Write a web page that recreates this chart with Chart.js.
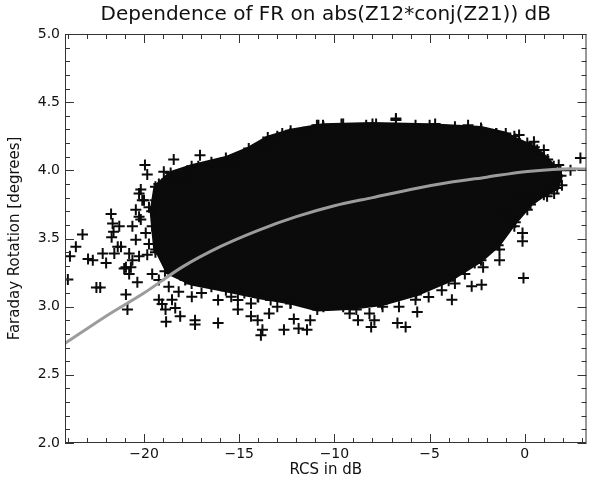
<!DOCTYPE html>
<html>
<head>
<meta charset="utf-8">
<script src="https://cdn.jsdelivr.net/npm/chart.js@4.4.1/dist/chart.umd.min.js"></script>
<style>
  html, body { margin: 0; padding: 0; background: #fff; }
  canvas { display: block; }
</style>
</head>
<body>
<canvas id="chart" width="594" height="480"></canvas>
<script>
// axis ranges and tick labels
const xRange = [-24.15, 3.24];
const yRange = [2.0, 5.0];
const xTicks = [-20, -15, -10, -5, 0];
const yTicks = [2.0, 2.5, 3.0, 3.5, 4.0, 4.5, 5.0];

// outline of the dense core of the cloud, [RCS dB, FR deg]
const coreOutline = [
  [-19.4, 3.40], [-19.6, 3.7], [-19.4, 3.88], [-18.6, 3.98], [-17.5, 4.03], [-15.7, 4.09],
  [-14.5, 4.16], [-13.5, 4.24], [-12.3, 4.29], [-10.6, 4.33], [-8, 4.34],
  [-5, 4.33], [-2.3, 4.31], [-1, 4.27], [-0.5, 4.23], [0.5, 4.17], [1.2, 4.08],
  [1.9, 3.96], [1.7, 3.87], [1.0, 3.82], [0.3, 3.75], [-0.5, 3.62], [-1.4, 3.45],
  [-2.3, 3.34], [-4, 3.19], [-5.7, 3.09], [-7.5, 3.02], [-9.2, 2.99], [-10.9, 2.98],
  [-12.3, 3.03], [-14, 3.07], [-15.7, 3.12], [-17.5, 3.17], [-18.9, 3.26]
];

// crosses sitting on the ragged rim of the core
const rimPoints = [
  [-19.22, 3.195], [-18.70, 3.146], [-18.18, 3.11], [-17.84, 3.195], [-17.49, 3.073],
  [-16.98, 3.10], [-16.46, 3.146], [-16.11, 3.048], [-15.42, 3.073], [-15.07, 3.048],
  [-14.73, 3.10], [-14.38, 3.024], [-14.03, 3.073], [-13.35, 3.048], [-13.0, 3.0],
  [-12.31, 3.024], [-11.61, 3.048], [-10.92, 3.024], [-10.58, 3.0],
  [-17.84, 3.95], [-17.15, 4.03], [-16.46, 4.03], [-15.76, 4.05], [-15.07, 4.08],
  [-14.38, 4.11], [-13.69, 4.17], [-13.0, 4.25], [-12.31, 4.27], [-11.61, 4.28],
  [-10.92, 4.33], [-10.58, 4.32], [-9.54, 4.34], [-8.33, 4.33], [-6.77, 4.37],
  [-5.74, 4.33], [-4.71, 4.34], [-3.67, 4.32], [-2.98, 4.33], [-2.28, 4.30],
  [-1.50, 4.27], [-0.55, 4.25], [0.13, 4.20], [0.65, 4.15], [1.0, 4.10],
  [1.17, 4.05], [1.52, 4.03], [1.87, 4.0], [1.52, 3.95],
  [-1.24, 3.66], [-0.90, 3.71], [-0.55, 3.76], [-0.21, 3.81], [0.13, 3.78],
  [0.48, 3.83], [1.0, 3.86], [1.35, 3.88], [1.17, 3.81], [0.13, 3.71],
  [-0.55, 3.59], [-1.94, 3.42], [-2.63, 3.32], [-3.15, 3.24], [-3.67, 3.17],
  [-4.36, 3.12], [-5.05, 3.07], [-5.74, 3.05], [-6.61, 3.0], [-7.47, 3.0],
  [-8.16, 2.95], [-8.85, 2.98], [-9.54, 3.0], [-10.24, 3.02],
  [-20.26, 3.83], [-20.09, 3.78], [-20.43, 3.71], [-20.17, 3.64], [-20.61, 3.59],
  [-19.91, 3.54], [-19.74, 3.46], [-20.26, 3.37], [-19.39, 3.42], [-19.57, 3.59],
  [-19.39, 3.78], [-19.22, 3.90], [-20.78, 3.39], [-21.38, 3.44], [-21.56, 3.39],
  [-20.95, 3.29], [-20.69, 3.29]
];

// scattered measurements away from the core
const outliers = [
  [-24.0, 3.20], [-23.89, 3.37], [-23.58, 3.44], [-23.23, 3.53], [-22.94, 3.35],
  [-22.69, 3.34], [-22.5, 3.14], [-22.3, 3.14], [-22.17, 3.39], [-21.99, 3.32],
  [-21.73, 3.68], [-21.65, 3.61], [-21.6, 3.55], [-21.7, 3.51], [-21.30, 3.59],
  [-21.21, 3.44], [-21.04, 3.28], [-20.95, 3.09], [-20.87, 2.98], [-20.78, 3.24],
  [-20.61, 3.34], [-20.35, 3.18], [-20.43, 3.49], [-20.26, 3.66], [-20.17, 3.86],
  [-19.95, 4.04], [-19.83, 3.97], [-20.0, 3.78], [-19.74, 3.73], [-19.83, 3.38],
  [-19.57, 3.24], [-19.22, 3.05], [-19.05, 3.02], [-18.87, 2.98], [-18.84, 2.89],
  [-18.96, 3.99], [-19.05, 3.90], [-18.44, 4.08], [-18.27, 3.94], [-18.53, 3.05],
  [-18.36, 2.99], [-18.1, 2.93], [-17.32, 2.90], [-17.32, 2.87], [-17.06, 4.11],
  [-16.46, 4.06], [-16.11, 2.88], [-15.42, 4.06], [-15.07, 2.98], [-14.38, 2.93],
  [-14.03, 2.90], [-13.86, 2.79], [-13.78, 2.83], [-13.43, 2.95], [-13.86, 4.17],
  [-13.34, 4.20], [-12.65, 2.83], [-12.74, 4.27], [-12.31, 4.26], [-12.13, 2.91],
  [-11.88, 2.84], [-11.44, 2.83], [-11.53, 4.27], [-11.27, 2.90], [-10.84, 4.33],
  [-9.63, 4.34], [-6.77, 4.38], [-7.81, 4.34], [-9.2, 2.95], [-8.76, 2.90],
  [-8.07, 2.85], [-7.9, 2.90], [-6.69, 2.88], [-6.26, 2.85], [-5.65, 2.96],
  [-3.83, 3.05], [-2.79, 3.15], [-2.27, 3.16], [-2.19, 3.29], [-1.33, 3.42],
  [-1.33, 3.34], [-1.50, 4.27], [-0.30, 4.26], [-0.12, 3.54], [-0.12, 3.48],
  [-0.82, 3.60], [-0.07, 3.21], [0.48, 4.21], [1.0, 4.15], [1.78, 4.04],
  [1.95, 3.89], [1.54, 3.83], [2.92, 4.09], [2.40, 4.00]
];

// fitted curve (grey)
const fitCurve = [
  [-24.15, 2.73], [-22, 2.93], [-20, 3.10], [-18, 3.29], [-16, 3.44], [-14, 3.56],
  [-12, 3.66], [-10, 3.74], [-8, 3.80], [-6, 3.86], [-4, 3.91], [-2, 3.95],
  [0, 3.99], [2, 4.01], [3.24, 4.01]
];

const toXY = arr => arr.map(p => ({ x: p[0], y: p[1] }));

// IDL-style inward ticks on all four sides
const boxTicks = {
  id: 'boxTicks',
  afterDatasetsDraw(chart) {
    const { ctx, chartArea: a, scales: { x, y } } = chart;
    ctx.save();
    ctx.strokeStyle = '#333';
    ctx.lineWidth = 1;
    ctx.strokeRect(a.left + 0.5, a.top + 0.5, a.width - 1, a.height - 1);
    ctx.beginPath();
    for (let v = Math.ceil(xRange[0]); v <= xRange[1]; v++) {
      const len = v % 5 === 0 ? 9 : 5;
      const px = Math.round(x.getPixelForValue(v)) + 0.5;
      ctx.moveTo(px, a.bottom); ctx.lineTo(px, a.bottom - len);
      ctx.moveTo(px, a.top); ctx.lineTo(px, a.top + len);
    }
    for (let i = 20; i <= 50; i++) {
      const len = i % 5 === 0 ? 9 : 5;
      const py = Math.round(y.getPixelForValue(i / 10)) + 0.5;
      ctx.moveTo(a.left, py); ctx.lineTo(a.left + len, py);
      ctx.moveTo(a.right, py); ctx.lineTo(a.right - len, py);
    }
    ctx.stroke();
    ctx.restore();
  }
};

const font = 'DejaVu Sans';
const ink = '#0b0b0b';
const crossStyle = { pointStyle: 'cross', pointRadius: 5.5, borderColor: ink, borderWidth: 2 };

new Chart(document.getElementById('chart').getContext('2d'), {
  type: 'scatter',
  data: {
    datasets: [
      {
        data: toXY(fitCurve),
        showLine: true,
        borderColor: '#9c9c9c',
        borderWidth: 3,
        pointRadius: 0,
        tension: 0.3,
        order: 0
      },
      Object.assign({ data: toXY(outliers), order: 1 }, crossStyle),
      Object.assign({ data: toXY(rimPoints), order: 2 }, crossStyle),
      {
        data: toXY(coreOutline),
        showLine: true,
        fill: 'shape',
        backgroundColor: ink,
        borderColor: ink,
        borderWidth: 4,
        pointStyle: 'cross',
        pointRadius: 5.5,
        pointBorderWidth: 2,
        order: 3
      }
    ]
  },
  options: {
    responsive: false,
    animation: false,
    devicePixelRatio: 1,
    layout: { padding: { left: 0, right: 1, top: 0, bottom: 0 } },
    plugins: {
      legend: { display: false },
      tooltip: { enabled: false },
      title: {
        display: true,
        fullSize: false,
        text: 'Dependence of FR on abs(Z12*conj(Z21)) dB',
        color: '#111',
        font: { family: font, size: 20, weight: 'normal' },
        padding: { top: 3, bottom: 7 }
      }
    },
    scales: {
      x: {
        type: 'linear',
        min: xRange[0],
        max: xRange[1],
        afterBuildTicks: s => { s.ticks = xTicks.map(v => ({ value: v })); },
        afterFit: s => { s.height = 37; },
        grid: { display: false, drawTicks: false },
        border: { display: false },
        ticks: {
          color: '#111',
          padding: 3,
          font: { family: font, size: 14 },
          callback: v => String(v).replace('-', '\u2212')
        },
        title: {
          display: true,
          text: 'RCS in dB',
          color: '#111',
          font: { family: font, size: 15 },
          padding: { top: 0, bottom: 1 }
        }
      },
      y: {
        type: 'linear',
        min: yRange[0],
        max: yRange[1],
        afterBuildTicks: s => { s.ticks = yTicks.map(v => ({ value: v })); },
        afterFit: s => { s.width = 65; },
        grid: { display: false, drawTicks: false },
        border: { display: false },
        ticks: {
          color: '#111',
          padding: 5,
          font: { family: font, size: 14 },
          callback: v => Number(v).toFixed(1)
        },
        title: {
          display: true,
          text: 'Faraday Rotation [degrees]',
          color: '#111',
          font: { family: font, size: 15 },
          padding: { top: 6, bottom: 0 }
        }
      }
    }
  },
  plugins: [boxTicks]
});
</script>
</body>
</html>
